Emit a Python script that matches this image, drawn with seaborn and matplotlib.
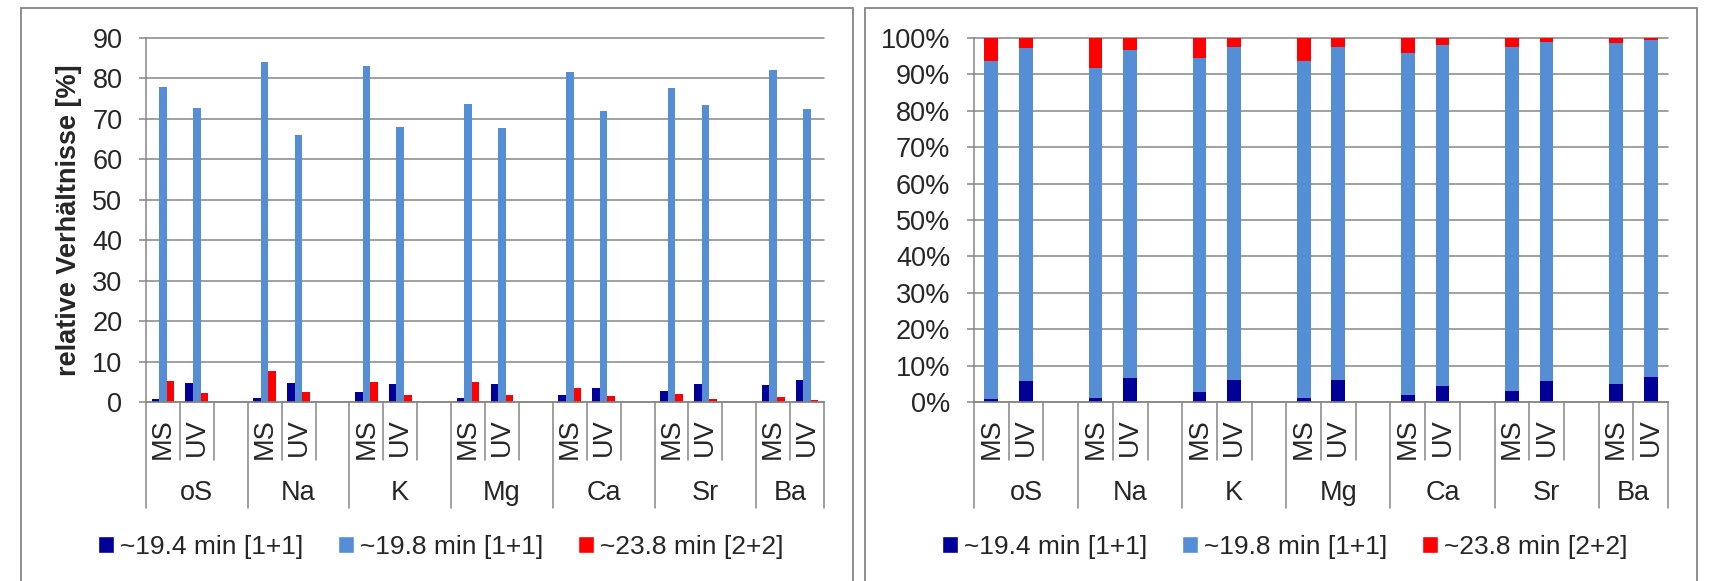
import numpy as np
import pandas as pd
import matplotlib
matplotlib.use("Agg")
import matplotlib.pyplot as plt
import seaborn as sns
from matplotlib.patches import Patch, Rectangle
from matplotlib.ticker import FuncFormatter
from matplotlib.transforms import blended_transform_factory

# ---------------- data ----------------
groups = ["oS", "Na", "K", "Mg", "Ca", "Sr", "Ba"]
methods = ["MS", "UV"]
series_names = ["~19.4 min [1+1]", "~19.8 min [1+1]", "~23.8 min [2+2]"]
# order: oS MS, oS UV, Na MS, Na UV, ...
peak_194 = [0.8, 4.7, 0.9, 4.8, 2.4, 4.45, 0.9, 4.5, 1.7, 3.4, 2.6, 4.45, 4.3, 5.35]
peak_198 = [77.9, 72.8, 84.1, 65.9, 83.2, 67.9, 73.7, 67.7, 81.6, 72.0, 77.7, 73.4, 82.2, 72.4]
peak_238 = [5.3, 2.3, 7.65, 2.5, 4.85, 1.8, 5.0, 1.8, 3.5, 1.5, 2.05, 0.8, 1.3, 0.5]
colors = ["#000099", "#558ED5", "#FF0000"]
GRAY = "#868686"

# category slots (with an empty spacer slot after each group except the last)
order, tick_labels, group_spans = [], [], []
for gi, g in enumerate(groups):
    start = len(order)
    for m in methods:
        order.append(f"{g} {m}")
        tick_labels.append(m)
    if gi < len(groups) - 1:
        order.append(f"{g} -")
        tick_labels.append("")
    group_spans.append((start, len(order) - 1))
bar_slots = [f"{g} {m}" for g in groups for m in methods]

rows = []
for name, vals in zip(series_names, [peak_194, peak_198, peak_238]):
    for s, v in zip(bar_slots, vals):
        rows.append((s, name, v))
df = pd.DataFrame(rows, columns=["slot", "series", "value"])

a = np.array(peak_194); b = np.array(peak_198); c = np.array(peak_238)
tot = a + b + c
cum_dark = a / tot * 100
cum_light = (a + b) / tot * 100
cum_all = tot / tot * 100

# ---------------- figure ----------------
sns.set_style("white")
plt.rcParams["font.family"] = ["Liberation Sans", "DejaVu Sans"]
FS = 19.5
FS_LEG = 19

W, H = 1710, 581
fig = plt.figure(figsize=(W / 100, H / 100), dpi=100)

def fx(px): return px / W
def fy(px): return 1 - px / H

ax_top, ax_bot = 38, 402
ax1 = fig.add_axes([fx(146), fy(ax_bot), fx(824) - fx(146), fy(ax_top) - fy(ax_bot)])
ax2 = fig.add_axes([fx(974), fy(ax_bot), fx(1668) - fx(974), fy(ax_top) - fy(ax_bot)])

# panel borders
for x0, x1 in [(21, 853), (865, 1697)]:
    fig.add_artist(Rectangle((fx(x0), -0.02), fx(x1) - fx(x0), fy(8) + 0.02,
                             transform=fig.transFigure, fill=False,
                             edgecolor=GRAY, linewidth=1.3))

# left: clustered bars
sns.barplot(data=df, x="slot", y="value", hue="series", order=order,
            hue_order=series_names, palette=colors, width=0.67,
            saturation=1, linewidth=0, legend=False, ax=ax1)

# right: 100% stacked bars (layered cumulative shares)
for vals, col in [(cum_all, colors[2]), (cum_light, colors[1]), (cum_dark, colors[0])]:
    sns.barplot(x=bar_slots, y=vals, order=order, color=col, width=0.40,
                saturation=1, linewidth=0, ax=ax2)

axis_h = ax_bot - ax_top
slot_sep = -(460 - ax_bot) / axis_h
group_sep = -(508 - ax_bot) / axis_h
group_lab = -(493 - ax_bot) / axis_h

def style(ax, ymax, pct):
    ax.set_xlim(-0.5, len(order) - 0.5)
    ax.set_ylim(0, ymax)
    ax.set_yticks(np.arange(0, ymax + 0.1, 10))
    if pct:
        ax.yaxis.set_major_formatter(FuncFormatter(lambda v, p: f"{v:.0f}%"))
    ax.set_xticks(range(len(order)))
    ax.set_xticklabels(tick_labels, rotation=90, fontsize=FS)
    ax.tick_params(axis="x", length=0, pad=12)
    ax.tick_params(axis="y", length=5, width=1.1, color=GRAY, pad=12, labelsize=FS, left=True)
    ax.set_axisbelow(True)
    ax.grid(axis="y", color=GRAY, linewidth=1.1)
    ax.grid(axis="x", visible=False)
    for ln in ax.get_ygridlines():
        ln.set_clip_on(False)
    for sp in ["top", "right"]:
        ax.spines[sp].set_visible(False)
    for sp in ["left", "bottom"]:
        ax.spines[sp].set_color(GRAY)
        ax.spines[sp].set_linewidth(1.1)
    ax.set_xlabel("")
    ax.set_ylabel("")
    trans = blended_transform_factory(ax.transData, ax.transAxes)
    gb = set()
    for s, e in group_spans:
        gb.add(s - 0.5); gb.add(e + 0.5)
    for i in range(len(order) + 1):
        xb = i - 0.5
        ybot = group_sep if xb in gb else slot_sep
        ax.plot([xb, xb], [0, ybot], transform=trans, color=GRAY,
                linewidth=1.1, clip_on=False)
    for g, (s, e) in zip(groups, group_spans):
        ax.text((s + e) / 2, group_lab, g, transform=trans, ha="center",
                va="center", fontsize=FS)

style(ax1, 90, False)
style(ax2, 100, True)

ax1.set_ylabel("relative Verhältnisse [%]", fontsize=FS, fontweight="bold")
ax1.yaxis.set_label_coords(-(146 - 82) / (824 - 146), 0.5)

handles = [Patch(facecolor=col, label=n) for col, n in zip(colors, series_names)]
for ax, cx in [(ax1, 441), (ax2, 1285)]:
    ax.legend(handles=handles, loc="center", bbox_to_anchor=(fx(cx), fy(547)),
              bbox_transform=fig.transFigure, ncol=3, frameon=False,
              handlelength=0.6, handleheight=0.6, handletextpad=0.25,
              columnspacing=1.3, fontsize=FS_LEG, borderaxespad=0)

fig.savefig("out.png", dpi=100)
